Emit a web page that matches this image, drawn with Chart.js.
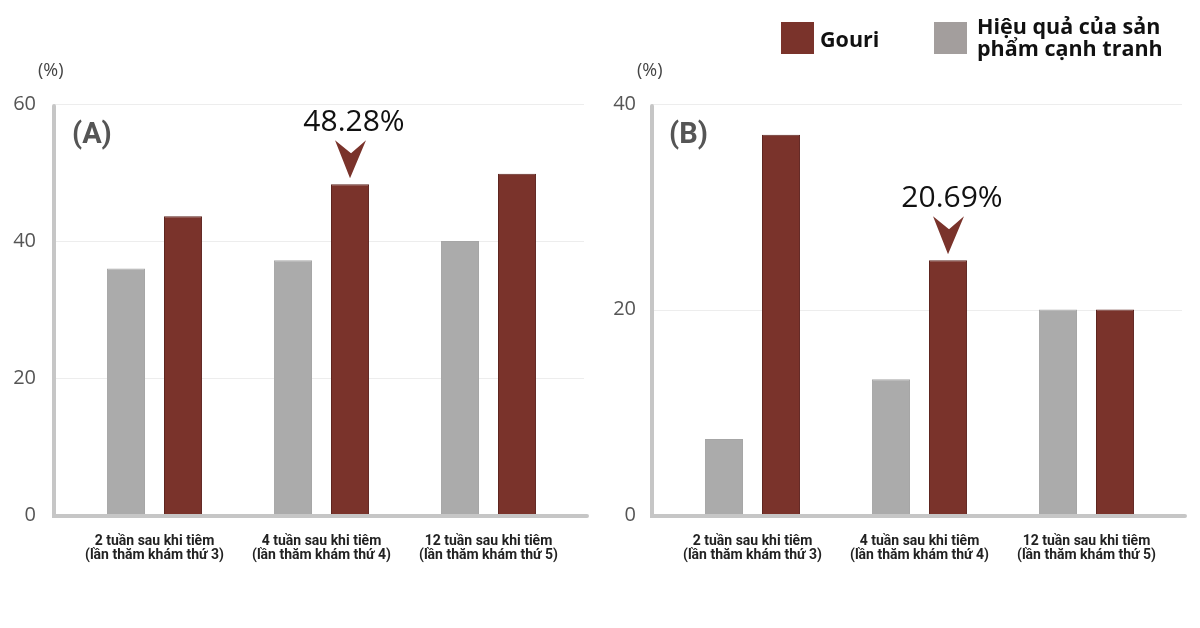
<!DOCTYPE html>
<html>
<head>
<meta charset="utf-8">
<script src="https://cdn.jsdelivr.net/npm/chart.js@4"></script>
<style>
  html, body { margin: 0; padding: 0; background: #fff; }
  #wrap { position: relative; width: 1200px; height: 628px; overflow: hidden; font-family: Roboto, sans-serif; }
  canvas { position: absolute; top: 0; }
  .unit { position: absolute; top: 57px; font: 18px "Open Sans", sans-serif; color: #444; }
  .panel { position: absolute; top: 116px; font: bold 29px Roboto, sans-serif; color: #555; }
  .legend { position: absolute; top: 0; font: bold 21.5px "Open Sans", sans-serif; color: #111; }
  .sw { position: absolute; width: 33px; height: 32px; top: 22px; }
</style>
</head>
<body>
<div id="wrap">
  <canvas id="chartA" width="600" height="628" style="left:0"></canvas>
  <canvas id="chartB" width="600" height="628" style="left:600px"></canvas>

  <div class="unit" style="left:38px">(%)</div>
  <div class="unit" style="left:637px">(%)</div>
  <div class="panel" style="left:72px">(A)</div>
  <div class="panel" style="left:669px">(B)</div>

  <div class="sw" style="left:781px; background:#7a332b"></div>
  <div class="legend" style="left:820px; top:24px">Gouri</div>
  <div class="sw" style="left:934px; background:#a39e9d"></div>
  <div class="legend" style="left:977px; top:15px; line-height:22px">Hiệu quả của sản<br>phẩm cạnh tranh</div>
</div>

<script>
// nhãn trục x
const categories = [
    ['2 tuần sau khi tiêm', '(lần thăm khám thứ 3)'],
    ['4 tuần sau khi tiêm', '(lần thăm khám thứ 4)'],
    ['12 tuần sau khi tiêm', '(lần thăm khám thứ 5)']
];

// (A)
const competitorA = [36.0, 37.2, 40.0];
const gouriA = [43.6, 48.3, 49.8];
const maxA = 60;

// (B)
const competitorB = [7.4, 13.2, 20.0];
const gouriB = [37.0, 24.8, 20.0];
const maxB = 40;

const tickStep = 20;

// chú thích mũi tên
const calloutA = { index: 1, text: '48.28%' };
const calloutB = { index: 1, text: '20.69%' };

const RED = '#7a332b';
const GRAY = '#ababab';

// lưới + trục vẽ tay, lệch ra ngoài vùng biểu đồ
const framePlugin = {
    id: 'frame',
    beforeDatasetsDraw(chart) {
        const { ctx, chartArea, scales } = chart;
        const left = chartArea.left - 17;
        ctx.save();
        ctx.strokeStyle = '#ededed';
        ctx.lineWidth = 1;
        scales.y.ticks.forEach(t => {
            if (t.value === 0) return;
            const y = Math.round(scales.y.getPixelForValue(t.value)) + 0.5;
            ctx.beginPath();
            ctx.moveTo(left, y);
            ctx.lineTo(chartArea.right + 12, y);
            ctx.stroke();
        });
        ctx.restore();
    },
    afterDatasetsDraw(chart) {
        const { ctx, chartArea, scales } = chart;
        const left = chartArea.left - 17;
        const y0 = scales.y.getPixelForValue(0) + 1;
        ctx.save();
        ctx.strokeStyle = '#c6c6c6';
        ctx.lineWidth = 4;
        ctx.lineCap = 'round';
        ctx.beginPath();
        ctx.moveTo(left, scales.y.getPixelForValue(scales.y.max) + 2);
        ctx.lineTo(left, y0);
        ctx.lineTo(chartArea.right + 15, y0);
        ctx.stroke();
        ctx.restore();
    }
};

const calloutPlugin = {
    id: 'callout',
    afterDatasetsDraw(chart, args, opts) {
        const bar = chart.getDatasetMeta(1).data[opts.index];
        const { ctx } = chart;
        const tipY = bar.y - 6;
        const x = bar.x;
        ctx.save();
        ctx.fillStyle = RED;
        ctx.beginPath();
        ctx.moveTo(x, tipY);
        ctx.lineTo(x - 15, tipY - 38);
        ctx.lineTo(x + 1, tipY - 25);
        ctx.lineTo(x + 16, tipY - 38);
        ctx.closePath();
        ctx.fill();
        ctx.fillStyle = '#111';
        ctx.font = '30px "Open Sans", sans-serif';
        ctx.textAlign = 'center';
        ctx.textBaseline = 'alphabetic';
        ctx.fillText(opts.text, x + 4, tipY - 47);
        ctx.restore();
    }
};

function makeChart(id, competitor, gouri, max, callout, axisWidth, padRight) {
    return new Chart(document.getElementById(id), {
        type: 'bar',
        data: {
            labels: categories,
            datasets: [
                {
                    label: 'Hiệu quả của sản phẩm cạnh tranh',
                    data: competitor,
                    backgroundColor: GRAY,
                    borderColor: '#a6a6a6',
                    borderWidth: 1
                },
                {
                    label: 'Gouri',
                    data: gouri,
                    backgroundColor: RED,
                    borderColor: '#5e2620',
                    borderWidth: 1
                }
            ]
        },
        options: {
            responsive: false,
            animation: false,
            devicePixelRatio: 1,
            categoryPercentage: 0.683,
            barPercentage: 0.667,
            layout: { padding: { top: 104, right: padRight, left: 0, bottom: 0 } },
            plugins: {
                legend: { display: false },
                tooltip: { enabled: false },
                callout: callout
            },
            scales: {
                x: {
                    grid: { display: false },
                    border: { display: false },
                    ticks: {
                        color: '#222',
                        padding: 12,
                        maxRotation: 0,
                        autoSkip: false,
                        font: { family: 'Roboto', weight: 'bold', size: 14, lineHeight: 0.98 }
                    },
                    afterFit(scale) { scale.height = 113; }
                },
                y: {
                    min: 0,
                    max: max,
                    grid: { display: false, drawTicks: false },
                    border: { display: false },
                    ticks: {
                        stepSize: tickStep,
                        color: '#555',
                        padding: axisWidth - 36,
                        font: { family: 'Open Sans', size: 20 }
                    },
                    afterFit(scale) { scale.width = axisWidth; }
                }
            }
        },
        plugins: [framePlugin, calloutPlugin]
    });
}

makeChart('chartA', competitorA, gouriA, maxA, calloutA, 71, 28);
makeChart('chartB', competitorB, gouriB, maxB, calloutB, 69, 30);
</script>
</body>
</html>
